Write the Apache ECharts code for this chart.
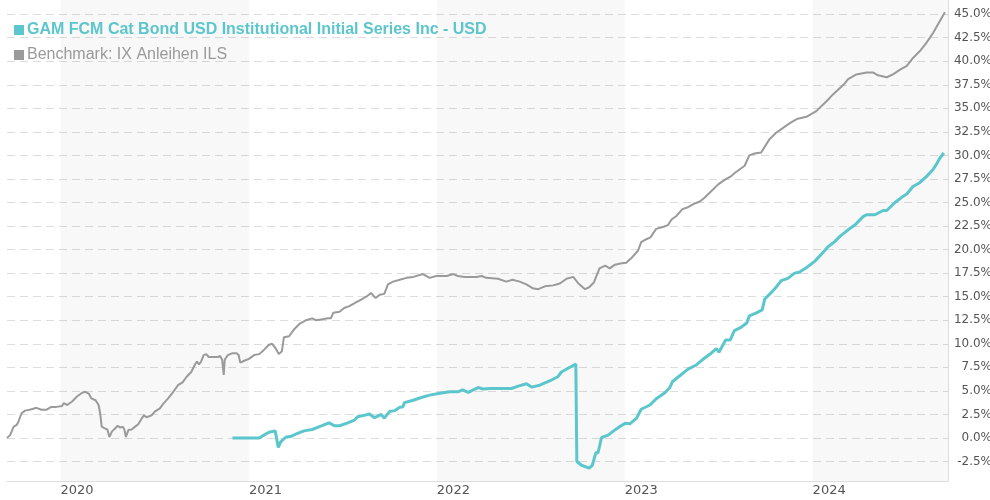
<!DOCTYPE html>
<html>
<head>
<meta charset="utf-8">
<script src="https://cdn.jsdelivr.net/npm/echarts@6/dist/echarts.min.js"></script>
<style>
    html, body { margin: 0; padding: 0; background: #fff; }
    #chart { width: 990px; height: 500px; }
</style>
</head>
<body>
<div id="chart"></div>
<script>
    const fundName = 'GAM FCM Cat Bond USD Institutional Initial Series Inc - USD'
    const benchName = 'Benchmark: IX Anleihen ILS'

    const fundDates = [
        '2020-11-30', '2021-01-21', '2021-01-30', '2021-02-09', '2021-02-21', '2021-02-27', '2021-03-04', '2021-03-14',
        '2021-03-23', '2021-04-02', '2021-04-18', '2021-05-04', '2021-05-18', '2021-05-27', '2021-06-06', '2021-06-16',
        '2021-06-26', '2021-07-12', '2021-07-25', '2021-07-31', '2021-08-13', '2021-08-23', '2021-09-02', '2021-09-15',
        '2021-09-21', '2021-10-01', '2021-10-11', '2021-10-21', '2021-10-27', '2021-10-30', '2021-11-16', '2021-12-02',
        '2021-12-18', '2022-01-07', '2022-01-26', '2022-02-11', '2022-02-20', '2022-03-03', '2022-03-22', '2022-04-01',
        '2022-04-14', '2022-05-03', '2022-05-26', '2022-06-08', '2022-06-24', '2022-07-04', '2022-07-20', '2022-08-08',
        '2022-08-24', '2022-08-31', '2022-09-13', '2022-09-28', '2022-09-30', '2022-10-09', '2022-10-24', '2022-10-30',
        '2022-11-06', '2022-11-10', '2022-11-17', '2022-11-30', '2022-12-09', '2022-12-22', '2023-01-02', '2023-01-11',
        '2023-01-24', '2023-02-02', '2023-02-19', '2023-03-04', '2023-03-20', '2023-03-29', '2023-04-04', '2023-04-18',
        '2023-05-04', '2023-05-20', '2023-06-02', '2023-06-18', '2023-06-28', '2023-07-03', '2023-07-16', '2023-07-25',
        '2023-08-02', '2023-08-15', '2023-08-26', '2023-08-31', '2023-09-13', '2023-09-25', '2023-09-30', '2023-10-13',
        '2023-10-22', '2023-11-01', '2023-11-14', '2023-11-27', '2023-12-06', '2023-12-19', '2024-01-05', '2024-01-18',
        '2024-01-31', '2024-02-13', '2024-02-23', '2024-03-10', '2024-03-23', '2024-04-08', '2024-04-15', '2024-05-01',
        '2024-05-17', '2024-05-24', '2024-06-09', '2024-06-22', '2024-07-02', '2024-07-14', '2024-07-27', '2024-08-09',
        '2024-08-22', '2024-08-29', '2024-09-04', '2024-09-12'
    ]
    const fundValues = [
        0.0, 0.0, 0.3, 0.6, 0.75, -1.0, -0.4, 0.1,
        0.15, 0.4, 0.75, 0.9, 1.2, 1.4, 1.6, 1.3,
        1.3, 1.6, 1.9, 2.25, 2.4, 2.55, 2.15, 2.5,
        2.1, 2.8, 2.9, 3.25, 3.3, 3.75, 4.0, 4.3,
        4.55, 4.75, 4.9, 4.9, 5.1, 4.85, 5.35, 5.2,
        5.25, 5.25, 5.25, 5.5, 5.75, 5.4, 5.6, 6.05,
        6.5, 7.0, 7.4, 7.85, -2.5, -2.9, -3.2, -2.9,
        -1.55, -1.6, 0.05, 0.3, 0.7, 1.2, 1.55, 1.5,
        2.1, 3.05, 3.5, 4.2, 4.8, 5.3, 6.0, 6.6,
        7.3, 7.75, 8.35, 9.0, 9.5, 9.1, 10.4, 10.4,
        11.4, 11.75, 12.2, 12.95, 13.25, 13.6, 14.75, 15.45,
        16.0, 16.7, 16.95, 17.5, 17.6, 18.05, 18.75, 19.5,
        20.3, 20.85, 21.4, 22.1, 22.6, 23.5, 23.7, 23.7,
        24.15, 24.15, 25.0, 25.55, 25.9, 26.7, 27.1, 27.75,
        28.5, 29.1, 29.7, 30.25
    ]

    const benchDates = [
        '2019-09-19', '2019-09-25', '2019-10-02', '2019-10-08', '2019-10-11', '2019-10-17', '2019-10-24', '2019-11-02',
        '2019-11-09', '2019-11-15', '2019-11-25', '2019-12-05', '2019-12-14', '2019-12-24', '2020-01-04', '2020-01-07',
        '2020-01-14', '2020-01-24', '2020-02-02', '2020-02-12', '2020-02-18', '2020-02-25', '2020-03-01', '2020-03-09',
        '2020-03-15', '2020-03-18', '2020-03-21', '2020-03-28', '2020-04-01', '2020-04-05', '2020-04-10', '2020-04-16',
        '2020-04-21', '2020-04-26', '2020-05-01', '2020-05-04', '2020-05-07', '2020-05-12', '2020-05-18', '2020-05-25',
        '2020-05-31', '2020-06-07', '2020-06-11', '2020-06-16', '2020-06-26', '2020-07-02', '2020-07-12', '2020-07-18',
        '2020-07-28', '2020-08-07', '2020-08-16', '2020-08-25', '2020-09-02', '2020-09-11', '2020-09-18', '2020-09-22',
        '2020-09-26', '2020-09-30', '2020-10-05', '2020-10-10', '2020-10-15', '2020-10-23', '2020-11-02', '2020-11-06',
        '2020-11-10', '2020-11-13', '2020-11-15', '2020-11-21', '2020-11-30', '2020-12-08', '2020-12-12', '2020-12-15',
        '2020-12-23', '2021-01-01', '2021-01-11', '2021-01-21', '2021-01-30', '2021-02-09', '2021-02-15', '2021-02-22',
        '2021-02-28', '2021-03-06', '2021-03-10', '2021-03-20', '2021-03-30', '2021-04-09', '2021-04-22', '2021-05-04',
        '2021-05-11', '2021-05-24', '2021-06-03', '2021-06-09', '2021-06-14', '2021-06-26', '2021-07-05', '2021-07-15',
        '2021-07-28', '2021-08-07', '2021-08-17', '2021-08-26', '2021-09-04', '2021-09-12', '2021-09-21', '2021-09-28',
        '2021-10-08', '2021-10-21', '2021-11-03', '2021-11-16', '2021-12-05', '2021-12-18', '2021-12-31', '2022-01-20',
        '2022-02-02', '2022-02-11', '2022-02-24', '2022-03-19', '2022-03-29', '2022-04-07', '2022-04-30', '2022-05-16',
        '2022-05-28', '2022-06-11', '2022-06-24', '2022-07-06', '2022-07-17', '2022-07-30', '2022-08-15', '2022-08-28',
        '2022-09-10', '2022-09-23', '2022-10-03', '2022-10-16', '2022-10-24', '2022-11-02', '2022-11-13', '2022-11-24',
        '2022-12-03', '2022-12-13', '2022-12-26', '2023-01-04', '2023-01-14', '2023-01-27', '2023-02-02', '2023-02-12',
        '2023-02-20', '2023-03-03', '2023-03-16', '2023-03-26', '2023-04-02', '2023-04-12', '2023-04-23', '2023-05-04',
        '2023-05-17', '2023-05-27', '2023-06-05', '2023-06-18', '2023-07-01', '2023-07-14', '2023-07-27', '2023-08-02',
        '2023-08-22', '2023-08-31', '2023-09-10', '2023-09-23', '2023-10-09', '2023-10-22', '2023-11-04', '2023-11-17',
        '2023-12-03', '2023-12-20', '2024-01-08', '2024-01-28', '2024-02-10', '2024-03-01', '2024-03-10', '2024-03-26',
        '2024-04-15', '2024-04-28', '2024-05-07', '2024-05-24', '2024-06-05', '2024-06-19', '2024-07-02', '2024-07-14',
        '2024-07-27', '2024-08-09', '2024-08-22', '2024-09-04', '2024-09-14'
    ]
    const benchValues = [
        0.0, 0.3, 1.2, 1.4, 1.7, 2.6, 2.9, 3.0,
        3.1, 3.2, 3.0, 3.0, 3.3, 3.3, 3.4, 3.7,
        3.5, 3.9, 4.4, 4.8, 4.9, 4.7, 4.2, 4.0,
        3.5, 2.6, 1.2, 1.0, 0.9, 0.1, 0.7, 1.0,
        1.3, 1.1, 1.2, 0.9, 0.1, 0.85, 0.9, 1.2,
        1.45, 2.1, 2.4, 2.2, 2.4, 2.8, 3.15, 3.6,
        4.2, 4.9, 5.6, 5.9, 6.5, 7.0, 7.8, 8.1,
        7.8, 8.1, 8.8, 8.9, 8.6, 8.6, 8.6, 8.7,
        8.3, 6.7, 8.3, 8.8, 9.0, 9.0, 8.8, 8.0,
        8.2, 8.4, 8.8, 8.9, 9.35, 9.9, 10.0, 9.5,
        8.9, 9.2, 10.7, 10.8, 11.55, 12.1, 12.5, 12.7,
        12.5, 12.6, 12.7, 12.7, 13.3, 13.4, 13.8, 14.0,
        14.4, 14.7, 15.0, 15.4, 14.85, 15.2, 15.3, 16.3,
        16.6, 16.8, 17.0, 17.1, 17.4, 17.0, 17.2, 17.2,
        17.4, 17.2, 17.1, 17.1, 17.2, 17.0, 16.9, 16.6,
        16.8, 16.6, 16.3, 15.9, 15.8, 16.1, 16.2, 16.4,
        16.9, 17.1, 16.4, 15.8, 16.0, 16.5, 18.0, 18.3,
        18.0, 18.4, 18.55, 18.6, 19.1, 19.9, 20.8, 21.1,
        21.3, 22.2, 22.4, 22.6, 23.2, 23.6, 24.3, 24.5,
        24.9, 25.1, 25.5, 26.2, 26.9, 27.4, 27.8, 28.1,
        28.9, 30.0, 30.2, 30.3, 31.7, 32.4, 32.9, 33.4,
        33.9, 34.1, 34.7, 35.75, 36.5, 37.5, 38.1, 38.6,
        38.8, 38.8, 38.5, 38.3, 38.6, 39.1, 39.5, 40.35,
        41.05, 41.95, 43.0, 44.25, 45.2
    ]

    const yearStarts = ['2020-01-01', '2021-01-01', '2022-01-01', '2023-01-01', '2024-01-01']
    const shadedYears = [['2020-01-01', '2021-01-01'], ['2022-01-01', '2023-01-01'], ['2024-01-01', '2024-09-20']]
    const yTicks = [-2.5, 0, 2.5, 5, 7.5, 10, 12.5, 15, 17.5, 20, 22.5, 25, 27.5, 30, 32.5, 35, 37.5, 40, 42.5, 45]

    const fundColor = '#5bc6cc'
    const benchColor = '#9a9a9a'

    let chart = echarts.init(document.getElementById('chart'))
    let option = {
        backgroundColor: '#fff',
        animation: false,
        grid: {
            left: 7,
            right: 42,
            top: 0,
            bottom: 19,
            outerBoundsMode: 'none'
        },
        legend: {
            orient: 'vertical',
            left: 9,
            top: 17,
            itemWidth: 10,
            itemHeight: 10,
            itemGap: 9,
            icon: 'rect',
            data: [{
                name: fundName,
                textStyle: {color: fundColor, fontWeight: 'bold'}
            }, {
                name: benchName,
                textStyle: {color: benchColor, fontWeight: 'normal'}
            }],
            textStyle: {
                fontFamily: 'Liberation Sans',
                fontSize: 16,
                lineHeight: 14,
                padding: [0, 0, 0, -2]
            },
            selectedMode: false
        },
        xAxis: {
            type: 'time',
            min: '2019-09-19',
            max: '2024-09-20',
            axisLine: {onZero: false, lineStyle: {color: '#ddd'}},
            axisTick: {show: false, customValues: yearStarts},
            splitLine: {show: false},
            axisLabel: {
                customValues: yearStarts,
                formatter: '{yyyy}',
                align: 'left',
                margin: 3,
                color: '#555',
                fontSize: 13,
                fontFamily: 'DejaVu Sans'
            }
        },
        yAxis: {
            type: 'value',
            position: 'right',
            min: -4.57,
            max: 46.5,
            axisLine: {show: true, lineStyle: {color: '#ddd'}},
            axisTick: {show: false, customValues: yTicks},
            splitLine: {
                show: true,
                lineStyle: {color: '#ddd', type: [8, 5]}
            },
            axisLabel: {
                customValues: yTicks,
                formatter: v => v.toFixed(1) + '%',
                align: 'right',
                margin: 44,
                color: '#555',
                fontSize: 12,
                fontFamily: 'DejaVu Sans'
            }
        },
        series: [{
            name: benchName,
            type: 'line',
            showSymbol: false,
            color: benchColor,
            lineStyle: {width: 2, color: benchColor},
            data: benchDates.map((d, i) => [d, benchValues[i]]),
            markArea: {
                silent: true,
                itemStyle: {color: 'rgba(0,0,0,0.027)'},
                data: shadedYears.map(b => [{xAxis: b[0]}, {xAxis: b[1]}])
            }
        }, {
            name: fundName,
            type: 'line',
            showSymbol: false,
            color: fundColor,
            lineStyle: {width: 3, color: fundColor},
            data: fundDates.map((d, i) => [d, fundValues[i]])
        }]
    }
    chart.setOption(option, true)
</script>
</body>
</html>
